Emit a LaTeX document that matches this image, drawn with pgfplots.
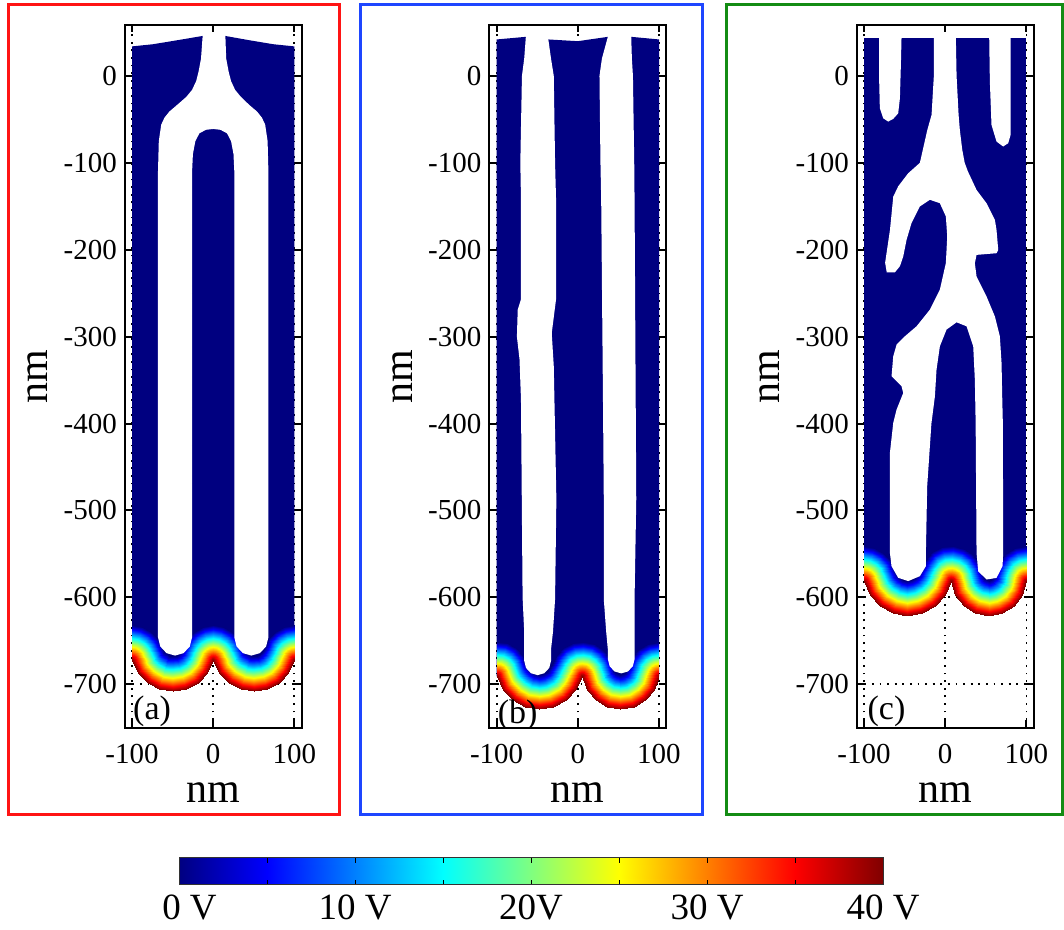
\documentclass[border=0pt]{standalone}
\usepackage{fontspec}
\setmainfont{Liberation Serif}
\usepackage{pgfplots}
\pgfplotsset{compat=1.18}

\definecolor{jetnavy}{RGB}{0,0,128}
\definecolor{framered}{RGB}{255,20,20}
\definecolor{frameblue}{RGB}{30,70,255}
\definecolor{framegreen}{RGB}{20,140,20}

\tikzset{plab/.style={anchor=base west, inner sep=0pt, font=\fontsize{17}{17}\selectfont}}

\pgfplotsset{
  colormap={myjet}{rgb255(0cm)=(0,0,128) rgb255(1cm)=(0,0,255) rgb255(3cm)=(0,255,255)
    rgb255(5cm)=(255,255,0) rgb255(7cm)=(255,0,0) rgb255(8cm)=(128,0,0)},
  panel/.style={
    scale only axis, width=88.5pt, height=351.5pt,
    xmin=-109, xmax=109, ymin=-750, ymax=59,
    xtick={-100,0,100}, xticklabels={-100,0,100},
    ytick={-700,-600,-500,-400,-300,-200,-100,0},
    yticklabels={-700,-600,-500,-400,-300,-200,-100,0},
    tick align=inside, major tick length=3.75pt,
    major tick style={black, line width=1pt},
    axis line style={line width=1pt},
    grid=major,
    grid style={black, line width=0.9pt, dash pattern=on 0.9pt off 2.9pt},
    tick label style={font=\fontsize{14.5}{15}\selectfont},
    xticklabel style={anchor=base, yshift=-18pt},
    yticklabel style={anchor=east, inner sep=0pt, xshift=-3.75pt},
    xlabel={nm}, ylabel={nm},
    label style={font=\fontsize{21}{21}\selectfont},
    xlabel style={at={([yshift=-37.6pt]rel axis cs:0.5,0)}, anchor=base},
    ylabel style={at={([xshift=-38.6pt]rel axis cs:0,0.5)}, anchor=base, rotate=0},
    point meta min=0, point meta max=40, colormap name=myjet,
  },
  gradient/.style={surf, shader=interp, mesh/rows=2, mesh/cols=33, point meta=explicit},
}

\begin{document}
\begin{tikzpicture}
\useasboundingbox (0,0) rectangle (532pt,465pt);
\draw[framered, line width=1.5pt] (4pt,57.5pt) rectangle (169.5pt,462.5pt);
\draw[frameblue, line width=1.5pt] (180pt,57.5pt) rectangle (351pt,462.5pt);
\draw[framegreen, line width=1.5pt] (363pt,57.5pt) rectangle (531pt,462.5pt);

% ---------------- (a) ----------------
\begin{axis}[panel, at={(62.35pt,101.15pt)}, anchor=south west]
\addplot[fill=jetnavy, draw=none] coordinates {(-100,34) (-74,36.5) (-45,41) (-13,46) (15,46) (45,41) (74,36.5) (100,34) (100,-672) (-100,-672)};
\addplot[gradient] coordinates {
(-100,-672)[40] (-100,-672)[40] (-100,-672)[40] (-100,-672)[40]
(-100,-672)[40] (-92.44,-686.55)[40] (-80.80,-698.07)[40] (-66.19,-705.45)[40] (-50,-708)[40] (-33.81,-705.45)[40] (-19.20,-698.07)[40] (-7.56,-686.55)[40] (0,-672)[40]
(0,-672)[40] (0,-672)[40] (0,-672)[40] (0,-672)[40] (0,-672)[40] (0,-672)[40] (0,-672)[40]
(0,-672)[40] (7.56,-686.55)[40] (19.20,-698.07)[40] (33.81,-705.45)[40] (50,-708)[40] (66.19,-705.45)[40] (80.80,-698.07)[40] (92.44,-686.55)[40] (100,-672)[40]
(100,-672)[40] (100,-672)[40] (100,-672)[40] (100,-672)[40]
(-100,-632)[0] (-87.72,-633.93)[0] (-76.63,-639.54)[0] (-67.80,-648.27)[0]
(-62.06,-659.32)[0] (-60.24,-662.83)[0] (-57.43,-665.60)[0] (-53.91,-667.39)[0] (-50,-668)[0] (-46.09,-667.39)[0] (-42.57,-665.60)[0] (-39.76,-662.83)[0] (-37.94,-659.32)[0]
(-32.20,-648.27)[0] (-23.37,-639.54)[0] (-12.28,-633.93)[0] (0,-632)[0] (12.28,-633.93)[0] (23.37,-639.54)[0] (32.20,-648.27)[0]
(37.94,-659.32)[0] (39.76,-662.83)[0] (42.57,-665.60)[0] (46.09,-667.39)[0] (50,-668)[0] (53.91,-667.39)[0] (57.43,-665.60)[0] (60.24,-662.83)[0] (62.06,-659.32)[0]
(67.80,-648.27)[0] (76.63,-639.54)[0] (87.72,-633.93)[0] (100,-632)[0]
};
\addplot[fill=white, draw=none] coordinates {(-13,50) (-13,46) (-15,20) (-18,5) (-21,-6) (-26,-16) (-33,-24) (-44,-33) (-54,-41) (-60,-48) (-64,-56) (-67,-75) (-68,-110) (-68,-646) (-65.19,-656.5) (-57.5,-664.19) (-47,-667) (-36.5,-664.19) (-28.81,-656.5) (-26,-646) (-26,-110) (-25,-90) (-22,-75) (-17,-66) (-9,-62) (0,-61) (9,-62) (17,-66) (22,-75) (25,-90) (26,-110) (26,-646) (28.81,-656.5) (36.5,-664.19) (47,-667) (57.5,-664.19) (65.19,-656.5) (68,-646) (68,-110) (67,-75) (64,-56) (60,-48) (54,-41) (44,-33) (34,-24) (27,-16) (22,-6) (19,5) (16,20) (15,46) (15,50)};
\node[plab] at (axis cs:-99,-740) {(a)};
\end{axis}

% ---------------- (b) ----------------
\begin{axis}[panel, at={(244.65pt,101.15pt)}, anchor=south west]
\addplot[fill=jetnavy, draw=none] coordinates {(-100,42) (-82,43.5) (-64,45) (-36.3,42) (0,40) (37,45) (65.8,45) (83,43.5) (100,42) (100,-691) (-100,-691)};
\addplot[gradient] coordinates {
(-100,-691)[40] (-100,-691)[40] (-100,-691)[40] (-100,-691)[40]
(-100,-691)[40] (-92.12,-706.34)[40] (-79.91,-718.50)[40] (-64.53,-726.31)[40] (-47.5,-729)[40] (-30.47,-726.31)[40] (-15.09,-718.50)[40] (-2.88,-706.34)[40] (5,-691)[40]
(5,-691)[40] (5,-691)[40] (5,-691)[40] (5,-691)[40] (5,-691)[40] (5,-691)[40] (5,-691)[40]
(5,-691)[40] (11.21,-706.12)[40] (22.08,-718.33)[40] (36.38,-726.25)[40] (52.5,-729)[40] (68.62,-726.25)[40] (82.92,-718.33)[40] (93.79,-706.12)[40] (100,-691)[40]
(100,-691)[40] (100,-691)[40] (100,-691)[40] (100,-691)[40]
(-100,-651)[0] (-87.67,-652.95)[0] (-76.54,-658.60)[0] (-67.71,-667.40)[0]
(-62.01,-678.50)[0] (-59.83,-682.74)[0] (-56.45,-686.10)[0] (-52.21,-688.26)[0] (-47.5,-689)[0] (-42.79,-688.26)[0] (-38.55,-686.10)[0] (-35.17,-682.74)[0] (-32.99,-678.50)[0]
(-27.01,-667.02)[0] (-17.66,-658.04)[0] (-5.94,-652.52)[0] (6.93,-651.05)[0] (19.60,-653.76)[0] (30.74,-660.38)[0] (39.17,-670.21)[0]
(44.02,-682.22)[0] (45.13,-684.92)[0] (47.07,-687.10)[0] (49.62,-688.51)[0] (52.5,-689)[0] (55.38,-688.51)[0] (57.93,-687.10)[0] (59.87,-684.92)[0] (60.98,-682.22)[0]
(66.08,-669.80)[0] (75.01,-659.77)[0] (86.76,-653.26)[0] (100,-651)[0]
};
\addplot[fill=white, draw=none] coordinates {(-64,50) (-64,45) (-66,20) (-68.8,0) (-70.8,-100) (-70,-142) (-70,-257) (-74,-269) (-75,-300) (-71.8,-326) (-70,-372) (-69,-487) (-68,-600) (-66,-640) (-66,-673) (-63.79,-681.25) (-57.75,-687.29) (-49.5,-689.5) (-41.25,-687.29) (-35.21,-681.25) (-33,-673) (-33,-660) (-30.6,-640) (-28,-602) (-26.4,-487) (-29.6,-334) (-32.1,-296) (-26.8,-257) (-26.8,-142) (-28,-100) (-29.6,0) (-33,20) (-36.3,42) (-36.3,50)};
\addplot[fill=white, draw=none] coordinates {(37,50) (37,45) (29.7,20) (26.7,0) (27.9,-100) (28.8,-142) (31,-372) (32,-487) (32,-602) (35,-640) (37,-660) (37,-671) (39.21,-679.25) (45.25,-685.29) (53.5,-687.5) (61.75,-685.29) (67.79,-679.25) (70,-671) (70,-660) (69.9,-602) (72,-487) (69.9,-142) (69.5,-100) (67.9,0) (66.6,20) (65.8,45) (65.8,50)};
\node[plab] at (axis cs:-99,-745) {(b)};
\end{axis}

% ---------------- (c) ----------------
\begin{axis}[panel, at={(428.35pt,101.15pt)}, anchor=south west]
\addplot[fill=jetnavy, draw=none] coordinates {(-100,44) (100,44) (100,-581) (-100,-581)};
\addplot[gradient] coordinates {
(-100,-581)[40] (-100,-581)[40] (-100,-581)[40] (-100,-581)[40]
(-100,-581)[40] (-92.30,-597.07)[40] (-79.90,-609.89)[40] (-64.10,-618.15)[40] (-46.5,-621)[40] (-28.90,-618.15)[40] (-13.10,-609.89)[40] (-0.70,-597.07)[40] (7,-581)[40]
(7,-581)[40] (7,-581)[40] (7,-581)[40] (7,-581)[40] (7,-581)[40] (7,-581)[40] (7,-581)[40]
(7,-581)[40] (12.35,-596.73)[40] (22.83,-609.62)[40] (37.15,-618.06)[40] (53.5,-621)[40] (69.85,-618.06)[40] (84.17,-609.62)[40] (94.65,-596.73)[40] (100,-581)[40]
(100,-581)[40] (100,-581)[40] (100,-581)[40] (100,-581)[40]
(-100,-541)[0] (-87.38,-543.04)[0] (-76.05,-548.96)[0] (-67.16,-558.16)[0]
(-61.64,-569.68)[0] (-59.46,-574.23)[0] (-55.95,-577.86)[0] (-51.48,-580.20)[0] (-46.5,-581)[0] (-41.52,-580.20)[0] (-37.05,-577.86)[0] (-33.54,-574.23)[0] (-31.36,-569.68)[0]
(-25.44,-557.60)[0] (-15.84,-548.16)[0] (-3.66,-542.45)[0] (9.73,-541.09)[0] (22.81,-544.26)[0] (34.10,-551.58)[0] (42.32,-562.24)[0]
(46.55,-575.02)[0] (47.35,-577.37)[0] (48.92,-579.30)[0] (51.06,-580.56)[0] (53.5,-581)[0] (55.94,-580.56)[0] (58.08,-579.30)[0] (59.65,-577.37)[0] (60.45,-575.02)[0]
(65.00,-561.64)[0] (73.92,-550.68)[0] (86.09,-543.50)[0] (100,-541)[0]
};
\addplot[fill=white, draw=none] coordinates {(-81.3,50) (-81.3,44) (-81.3,-6.5) (-80.5,-37.2) (-76.4,-48.7) (-70.2,-52.5) (-64,-49.4) (-57.9,-43) (-55.8,-25.7) (-54.6,12.6) (-53.8,44) (-53.8,50)};
\addplot[fill=white, draw=none] coordinates {(54.2,50) (54.2,44) (55,-6.5) (57,-56.3) (63.2,-75.5) (71.4,-81.2) (77.6,-77.4) (80.5,-67.8) (80.5,44) (80.5,50)};
\addplot[fill=white, draw=none] coordinates {(-14.8,50) (-14,44) (-14,0) (-16.8,-44.8) (-22,-62) (-31.2,-100) (-45.6,-112) (-57.9,-127) (-64,-139) (-68,-177) (-74,-215) (-72,-226) (-62,-226) (-55.8,-219) (-51.7,-207.7) (-47.6,-188.5) (-41.5,-169.3) (-31.2,-150.2) (-18.9,-142.5) (-6.6,-146.4) (0.8,-161.7) (2.5,-184.7) (0.8,-215.3) (-6.6,-246) (-18.9,-269) (-35.3,-288.1) (-49.7,-299.6) (-59.9,-309.2) (-64,-322.6) (-66.1,-345.6) (-53.8,-357.1) (-51.7,-364.8) (-59.9,-383.9) (-64,-399.2) (-68.1,-433.7) (-68.1,-549) (-66.1,-564.1) (-57.9,-577.5) (-45.6,-581.3) (-31.2,-575.6) (-23.8,-564.1) (-23.8,-548.8) (-22.2,-472.2) (-17,-400) (-12.7,-368.7) (-10.7,-338) (-6.6,-311.1) (1.6,-291.9) (14,-283.5) (26.3,-288.1) (34.5,-311.1) (36.5,-349.4) (37.5,-400) (38.6,-548.8) (40.6,-569.9) (50.9,-579.5) (63.2,-577.6) (70.6,-564.1) (71.4,-548.8) (71,-400) (70.2,-368.7) (69.4,-330.4) (67.3,-299.7) (61.2,-276.8) (50.9,-253.8) (38.6,-230.8) (36.5,-215.5) (38.6,-205.9) (63.2,-204) (65.3,-200.2) (63.2,-177.2) (61.2,-165.7) (50.9,-146.5) (38.6,-131.2) (28,-110) (24,-100) (21,-85) (18,-62) (16.5,-45) (14,0) (13.1,44) (13.1,50)};
\node[plab] at (axis cs:-96,-741) {(c)};
\end{axis}

% ---------------- colour bar ----------------
\begin{axis}[scale only axis, at={(89.5pt,22.5pt)}, anchor=south west,
  width=352pt, height=13.5pt,
  xmin=0, xmax=40, ymin=0, ymax=1,
  ytick=\empty, axis on top,
  xtick={0,10,20,30,40}, xticklabels={\hspace*{10.5pt}0 V,10 V,20V,30 V,40 V},
  minor xtick={5,15,25,35},
  tick align=inside, major tick length=2.5pt, minor tick length=2.5pt,
  tick style={black, line width=0.5pt},
  axis line style={line width=0.5pt, black!80},
  xticklabel style={font=\fontsize{18.5}{19}\selectfont, anchor=base, inner sep=0pt, yshift=-17.5pt},
  point meta min=0, point meta max=40, colormap name=myjet]
\addplot[surf, shader=interp, mesh/rows=2, mesh/cols=2, point meta=explicit] coordinates {(0,0)[0] (40,0)[40] (0,1)[0] (40,1)[40]};
\end{axis}
\end{tikzpicture}
\end{document}
